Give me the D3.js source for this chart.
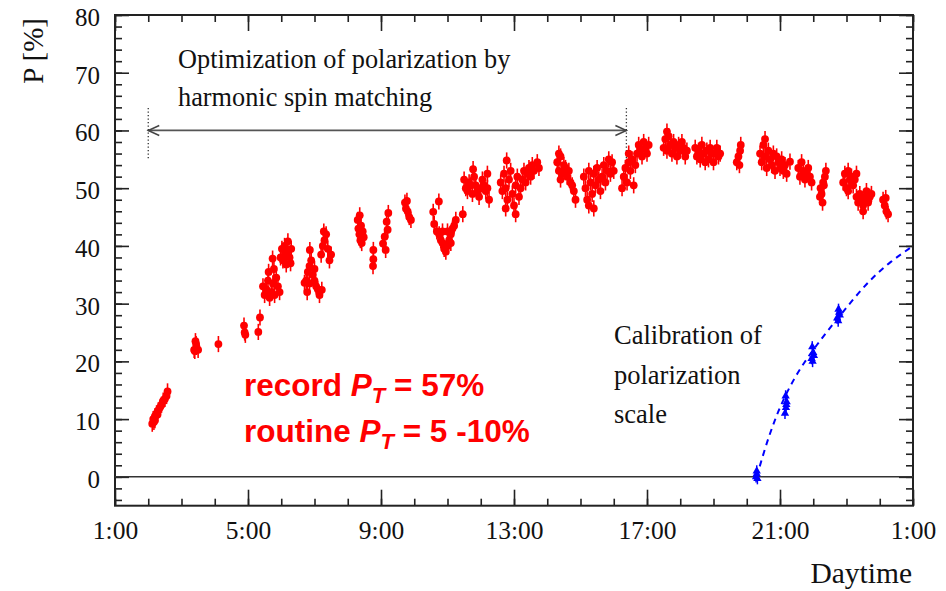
<!DOCTYPE html>
<html>
<head>
<meta charset="utf-8">
<script src="https://cdn.jsdelivr.net/npm/d3@7"></script>
<style>
  html, body { margin: 0; padding: 0; background: #fff; }
  svg { display: block; }
</style>
</head>
<body>
<svg id="chart" width="946" height="591"></svg>
<script>
// ---------------- DATA ----------------
// Measured polarization (red): [daytime in hours since 0:00 of day 1, P in %]
const redPoints = [
  [2.12,9.2],[2.15,10.0],[2.17,9.5],[2.2,10.5],[2.2,9.8],[2.25,11.0],[2.28,10.8],[2.3,11.5],[2.35,12.0],[2.4,12.5],[2.45,13.2],[2.5,13.5],[2.55,14.0],[2.58,14.8],
  [3.38,22.0],[3.4,21.8],[3.42,23.5],[3.44,23.0],[3.45,22.5],[3.5,22.0],
  [4.11,23.0],
  [4.88,26.2],[4.9,25.0],[4.92,24.6],[5.31,25.1],[5.36,27.6],
  [5.45,33.0],[5.5,31.5],[5.55,32.5],[5.6,34.0],[5.62,35.5],[5.65,31.0],[5.7,32.0],[5.74,37.8],[5.75,33.5],[5.78,36.0],[5.8,31.5],[5.85,34.5],[5.9,33.0],[5.95,32.0],
  [5.98,38.0],[6.02,39.5],[6.05,37.5],[6.1,40.0],[6.12,38.5],[6.18,39.0],[6.2,40.8],[6.25,38.0],[6.28,37.0],[6.15,36.8],[6.3,39.5],
  [6.7,33.6],[6.75,34.0],[6.78,32.0],[6.8,35.5],[6.85,36.5],[6.85,33.5],[6.86,39.3],[6.9,37.5],[6.95,35.0],[7.0,34.0],[7.0,36.0],[7.05,33.0],[7.1,32.5],[7.15,31.5],[7.22,32.4],
  [7.2,38.5],[7.25,40.0],[7.28,42.5],[7.3,41.0],[7.35,42.0],[7.4,39.5],[7.45,37.5],[7.5,38.5],
  [8.3,44.5],[8.32,43.0],[8.35,42.0],[8.36,45.3],[8.38,41.0],[8.4,43.5],[8.42,40.5],[8.45,42.5],[8.48,41.5],
  [8.77,39.3],[8.77,37.7],[8.76,36.5],[9.22,45.7],[9.17,44.2],[9.2,42.8],[9.11,41.6],[9.06,40.4],[9.14,39.3],
  [9.72,47.5],[9.75,46.5],[9.78,47.8],[9.8,46.0],[9.85,45.0],[9.9,44.5],
  [10.57,45.9],[10.74,47.7],[10.6,43.8],[10.68,42.5],[10.75,42.0],[10.8,41.0],[10.85,40.5],[10.85,42.5],[10.9,39.5],[10.95,39.0],[11.0,40.0],[11.0,42.5],[11.05,41.0],[11.1,42.0],[11.1,40.5],[11.15,43.0],[11.2,43.5],[11.25,44.5],[11.46,45.5],
  [11.5,51.5],[11.55,50.0],[11.6,49.5],[11.65,51.0],[11.7,50.5],[11.75,49.0],[11.77,53.3],[11.8,52.0],[11.85,50.5],[11.9,49.5],[11.95,48.5],[12.0,50.0],[12.05,51.5],[12.1,50.5],[12.15,49.5],[12.2,50.0],[12.2,52.5],[12.25,48.0],
  [12.6,51.0],[12.65,49.5],[12.7,52.5],[12.75,50.0],[12.75,46.5],[12.78,54.8],[12.8,48.0],[12.85,51.5],[12.9,53.0],[12.95,49.0],[13.0,47.0],[13.05,50.5],[13.05,45.5],[13.1,52.0],[13.15,48.5],[13.2,50.0],[13.25,51.5],[13.3,53.0],[13.35,51.0],[13.4,52.5],[13.45,53.5],[13.5,52.0],[13.55,54.0],[13.6,53.0],[13.7,54.5],[13.75,53.5],
  [14.3,54.5],[14.35,53.0],[14.35,56.0],[14.4,55.5],[14.4,51.5],[14.45,52.5],[14.5,54.0],[14.55,53.5],[14.6,52.0],[14.65,53.0],[14.7,51.0],[14.75,50.5],[14.8,49.5],[14.85,48.0],
  [15.1,52.0],[15.15,50.0],[15.2,48.0],[15.25,53.0],[15.25,47.0],[15.3,51.0],[15.35,49.0],[15.4,52.5],[15.4,46.5],[15.45,50.5],[15.5,53.5],[15.55,51.5],[15.6,49.5],[15.65,52.0],[15.7,54.0],[15.75,51.0],[15.8,53.0],[15.85,55.0],[15.9,52.5],[15.95,54.5],[16.0,53.0],
  [16.25,50.0],[16.3,52.0],[16.35,53.5],[16.4,51.0],[16.45,54.5],[16.45,56.0],[16.5,53.0],[16.55,55.0],[16.6,50.5],[16.65,54.0],[16.7,56.0],[16.75,57.5],[16.8,56.5],[16.85,55.5],[16.9,58.0],[16.95,57.0],[17.0,56.0],[17.05,57.5],
  [17.5,57.0],[17.55,58.5],[17.6,56.5],[17.6,59.8],[17.65,59.0],[17.7,57.5],[17.75,56.0],[17.8,58.0],[17.85,57.0],[17.9,55.5],[17.95,57.5],[18.0,56.5],[18.05,58.0],[18.1,57.0],[18.15,55.5],[18.2,56.5],
  [18.45,57.0],[18.5,55.5],[18.55,56.5],[18.6,55.0],[18.65,57.5],[18.7,56.0],[18.75,54.5],[18.8,56.5],[18.85,55.0],[18.9,57.0],[18.95,56.0],[19.0,54.5],[19.05,56.0],[19.1,57.0],[19.15,55.5],[19.2,56.0],
  [19.7,54.5],[19.75,55.5],[19.78,54.0],[19.8,56.5],[19.82,57.5],
  [20.4,56.0],[20.45,54.5],[20.5,57.5],[20.55,55.5],[20.55,58.5],[20.6,53.5],[20.65,56.5],[20.7,55.0],[20.75,54.0],[20.8,56.0],[20.85,53.0],[20.9,55.5],[20.95,54.5],[21.0,53.5],[21.05,55.0],[21.1,53.0],[21.15,54.0],[21.2,52.5],[21.3,54.6],
  [21.55,53.5],[21.6,52.0],[21.65,54.5],[21.7,53.0],[21.75,51.5],[21.8,52.5],[21.85,53.5],[21.9,52.0],[21.95,51.0],
  [22.2,48.5],[22.22,50.0],[22.25,49.0],[22.28,47.5],[22.3,51.0],[22.32,50.5],[22.35,52.0],[22.38,53.0],
  [22.9,51.0],[22.95,52.5],[23.0,50.0],[23.05,53.0],[23.05,49.5],[23.1,51.5],[23.15,52.0],[23.2,50.5],[23.25,51.5],[23.3,52.5],
  [23.3,48.5],[23.35,47.5],[23.4,49.0],[23.45,48.0],[23.5,47.0],[23.5,46.0],[23.55,48.5],[23.6,49.5],[23.65,47.5],[23.7,48.5],[23.75,49.0],
  [24.1,48.0],[24.15,47.0],[24.18,48.3],[24.2,46.0],[24.25,45.5]
];
const redError = 1.4;   // typical error bar (%)

// Calibration points (blue)
const bluePoints = [
  [20.28,0.0],[20.3,1.0],[20.32,-0.3],[20.3,0.5],
  [21.15,11.0],[21.18,12.0],[21.2,13.0],[21.17,14.0],[21.19,12.5],
  [21.95,20.5],[22.0,21.5],[21.97,22.5],[22.02,21.0],[21.98,20.0],
  [22.72,27.5],[22.78,28.5],[22.75,27.0],[22.8,28.0],[22.76,29.0]
];
const blueError = 1.0;

// Calibration curve (blue dashed)
const fitTime = [20.3, 20.55, 20.8, 21.05, 21.4, 21.75, 22.1, 22.5, 22.9, 23.35, 23.8, 24.3, 25.0];
const fitPol  = [0.0,  5.0,   9.2,  12.8,  16.8, 20.0,  22.8, 25.8, 28.6, 31.8,  34.6, 37.2, 40.0];

// Axis ticks
const xMajorTicks = [1, 5, 9, 13, 17, 21, 25];
const xTickLabels = ["1:00", "5:00", "9:00", "13:00", "17:00", "21:00", "1:00"];
const yMajorTicks = [0, 10, 20, 30, 40, 50, 60, 70, 80];

// Annotation span (harmonic spin matching)
const spanStart = 2.0, spanEnd = 16.38, spanLevel = 60;

// ---------------- CHART ----------------
const svg = d3.select("#chart");
const W = 946, H = 591;
const m = { left: 115, right: 946 - 913, top: 15, bottom: 591 - 505.7 };
const serif = "'Liberation Serif', 'Times New Roman', serif";
const sans = "'Liberation Sans', Arial, sans-serif";

svg.append("rect").attr("width", W).attr("height", H).attr("fill", "#fff");

const x = d3.scaleLinear().domain([1, 25]).range([m.left, W - m.right]);
const y = d3.scaleLinear().domain([-5, 80]).range([H - m.bottom, m.top]);

const x0 = x.range()[0], x1 = x.range()[1];
const yb = y.range()[0], yt = y.range()[1];

// minor ticks
const xMinor = d3.range(1, 26, 1);
const yMinor = d3.range(-4, 81, 2);

function styleAxis(g) {
  g.select(".domain").remove();
  g.selectAll(".tick line").attr("stroke", "#222").attr("stroke-width", 1.6);
}

// bottom minor / major
svg.append("g").attr("transform", `translate(0,${yb})`)
  .call(d3.axisBottom(x).tickValues(xMinor).tickSize(-7).tickFormat(""))
  .call(styleAxis);
const bx = svg.append("g").attr("transform", `translate(0,${yb})`)
  .call(d3.axisBottom(x).tickValues(xMajorTicks).tickSize(-16)
        .tickFormat((d, i) => xTickLabels[i]))
  .call(styleAxis);
bx.selectAll(".tick text")
  .attr("y", 33).attr("dy", 0)
  .attr("font-family", serif).attr("font-size", 25.5).attr("fill", "#111");

// top
svg.append("g").attr("transform", `translate(0,${yt})`)
  .call(d3.axisTop(x).tickValues(xMinor).tickSize(-7).tickFormat(""))
  .call(styleAxis);
svg.append("g").attr("transform", `translate(0,${yt})`)
  .call(d3.axisTop(x).tickValues(xMajorTicks).tickSize(-16).tickFormat(""))
  .call(styleAxis);

// left
svg.append("g").attr("transform", `translate(${x0},0)`)
  .call(d3.axisLeft(y).tickValues(yMinor).tickSize(-7).tickFormat(""))
  .call(styleAxis);
const ly = svg.append("g").attr("transform", `translate(${x0},0)`)
  .call(d3.axisLeft(y).tickValues(yMajorTicks).tickSize(-14).tickFormat(d3.format("d")))
  .call(styleAxis);
ly.selectAll(".tick text")
  .attr("x", -15).attr("dy", "0.42em")
  .attr("font-family", serif).attr("font-size", 25).attr("fill", "#111");

// right
svg.append("g").attr("transform", `translate(${x1},0)`)
  .call(d3.axisRight(y).tickValues(yMinor).tickSize(-7).tickFormat(""))
  .call(styleAxis);
svg.append("g").attr("transform", `translate(${x1},0)`)
  .call(d3.axisRight(y).tickValues(yMajorTicks).tickSize(-14).tickFormat(""))
  .call(styleAxis);

// frame
svg.append("rect")
  .attr("x", x0).attr("y", yt).attr("width", x1 - x0).attr("height", yb - yt)
  .attr("fill", "none").attr("stroke", "#222").attr("stroke-width", 2);

// zero line
svg.append("line")
  .attr("x1", x0).attr("x2", x1).attr("y1", y(0)).attr("y2", y(0))
  .attr("stroke", "#333").attr("stroke-width", 1.5);

// axis titles
svg.append("text")
  .attr("transform", `translate(43,${yt + 3}) rotate(-90)`)
  .attr("text-anchor", "end")
  .attr("font-family", serif).attr("font-size", 29).attr("fill", "#111")
  .text("P [%]");
svg.append("text")
  .attr("x", 912).attr("y", 583)
  .attr("text-anchor", "end")
  .attr("font-family", serif).attr("font-size", 29.5).attr("fill", "#111")
  .text("Daytime");

// annotation: harmonic spin matching
const ann = svg.append("g");
ann.append("text").attr("x", 178).attr("y", 68)
  .attr("font-family", serif).attr("font-size", 26.3).attr("fill", "#111")
  .text("Optimization of polarization by");
ann.append("text").attr("x", 178).attr("y", 106)
  .attr("font-family", serif).attr("font-size", 26.3).attr("fill", "#111")
  .text("harmonic spin matching");

const ay = y(spanLevel);
const axs = x(spanStart), axe = x(spanEnd);
ann.append("line").attr("x1", axs).attr("x2", axe).attr("y1", ay).attr("y2", ay)
  .attr("stroke", "#555").attr("stroke-width", 1.8);
ann.append("path")
  .attr("d", `M${axs + 11},${ay - 5}L${axs},${ay}L${axs + 11},${ay + 5}`)
  .attr("fill", "none").attr("stroke", "#444").attr("stroke-width", 1.5);
ann.append("path")
  .attr("d", `M${axe - 11},${ay - 5}L${axe},${ay}L${axe - 11},${ay + 5}`)
  .attr("fill", "none").attr("stroke", "#444").attr("stroke-width", 1.5);
[spanStart, spanEnd].forEach(t => {
  ann.append("line")
    .attr("x1", x(t)).attr("x2", x(t)).attr("y1", y(63.9)).attr("y2", y(55.2))
    .attr("stroke", "#333").attr("stroke-width", 1.3).attr("stroke-dasharray", "1.3,2.2");
});

// calibration text
const cal = ["Calibration of", "polarization", "scale"];
const calY = [344, 384, 423];
cal.forEach((s, i) => {
  svg.append("text").attr("x", 614).attr("y", calY[i])
    .attr("font-family", serif).attr("font-size", 26.5).attr("fill", "#111")
    .text(s);
});

// record text
function prText(yBase, pre, post) {
  const t = svg.append("text").attr("x", 244).attr("y", yBase)
    .attr("font-family", sans).attr("font-size", 31.5).attr("font-weight", "bold")
    .attr("fill", "#ff0000");
  t.append("tspan").text(pre + " ");
  t.append("tspan").attr("font-style", "italic").text("P");
  t.append("tspan").attr("font-style", "italic").attr("font-size", 22).attr("dy", 7).text("T");
  t.append("tspan").attr("dy", -7).text(" " + post);
}
prText(396, "record", "= 57%");
prText(442, "routine", "= 5 -10%");

// red points: error bars + dots
const rg = svg.append("g");
rg.selectAll("line.err").data(redPoints).join("line")
  .attr("class", "err")
  .attr("x1", d => x(d[0])).attr("x2", d => x(d[0]))
  .attr("y1", d => y(d[1] - redError)).attr("y2", d => y(d[1] + redError))
  .attr("stroke", "#ff0000").attr("stroke-width", 1.6);
rg.selectAll("circle").data(redPoints).join("circle")
  .attr("cx", d => x(d[0])).attr("cy", d => y(d[1])).attr("r", 3.9)
  .attr("fill", "#ff0000");

// blue fit curve
const fitData = fitTime.map((t, i) => [t, fitPol[i]]);
svg.append("path")
  .datum(fitData)
  .attr("d", d3.line().x(d => x(d[0])).y(d => y(d[1])).curve(d3.curveBasis))
  .attr("fill", "none").attr("stroke", "#0000ff").attr("stroke-width", 2)
  .attr("stroke-dasharray", "6,5");

// blue points
const bg = svg.append("g");
bg.selectAll("line").data(bluePoints).join("line")
  .attr("x1", d => x(d[0])).attr("x2", d => x(d[0]))
  .attr("y1", d => y(d[1] - blueError)).attr("y2", d => y(d[1] + blueError))
  .attr("stroke", "#0000ff").attr("stroke-width", 1.5);
bg.selectAll("path").data(bluePoints).join("path")
  .attr("transform", d => `translate(${x(d[0])},${y(d[1])})`)
  .attr("d", d3.symbol().type(d3.symbolTriangle).size(30))
  .attr("fill", "#0000ff");
</script>
</body>
</html>
